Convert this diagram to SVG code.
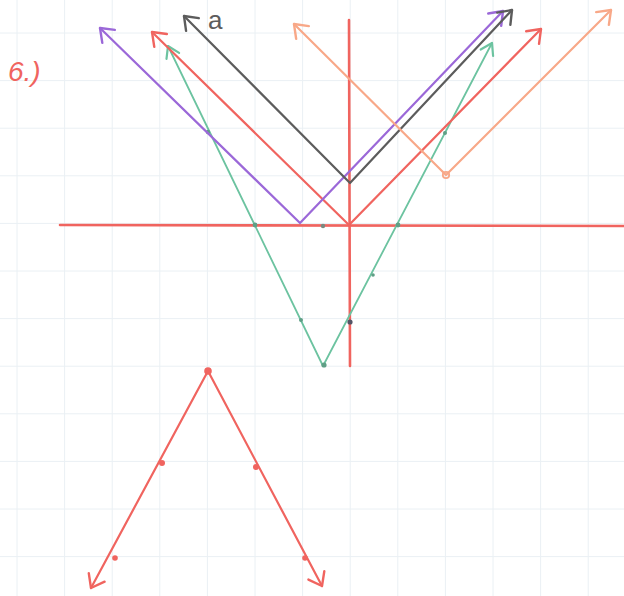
<svg xmlns="http://www.w3.org/2000/svg" width="624" height="596" viewBox="0 0 624 596">
<style>
.grid line{stroke:#eaf0f4;stroke-width:1}
.ln{fill:none;stroke-width:2.2;stroke-linecap:round;stroke-linejoin:round}
.red{stroke:#f0645f}
.pur{stroke:#9b68d8}
.gry{stroke:#5c5c5c}
.org{stroke:#f8a888}
.grn{stroke:#6cc3a0;stroke-width:1.8}
.axis{stroke:#f0645f;stroke-width:2.6;fill:none;stroke-linecap:round}
.lbl{font-family:"Liberation Sans",Arial,sans-serif}
</style>
<defs>
<marker id="mRed" markerUnits="userSpaceOnUse" markerWidth="24" markerHeight="24" refX="0" refY="0" viewBox="-14 -12 16 24" orient="auto-start-reverse"><path d="M-12,-9 L0,0 L-12,9" fill="none" stroke="#f0645f" stroke-width="2.4" stroke-linecap="round" stroke-linejoin="round"/></marker>
<marker id="mPur" markerUnits="userSpaceOnUse" markerWidth="24" markerHeight="24" refX="0" refY="0" viewBox="-14 -12 16 24" orient="auto-start-reverse"><path d="M-12,-9 L0,0 L-12,9" fill="none" stroke="#9b68d8" stroke-width="2.4" stroke-linecap="round" stroke-linejoin="round"/></marker>
<marker id="mGry" markerUnits="userSpaceOnUse" markerWidth="24" markerHeight="24" refX="0" refY="0" viewBox="-14 -12 16 24" orient="auto-start-reverse"><path d="M-12,-9 L0,0 L-12,9" fill="none" stroke="#5c5c5c" stroke-width="2.4" stroke-linecap="round" stroke-linejoin="round"/></marker>
<marker id="mOrg" markerUnits="userSpaceOnUse" markerWidth="24" markerHeight="24" refX="0" refY="0" viewBox="-14 -12 16 24" orient="auto-start-reverse"><path d="M-12,-9 L0,0 L-12,9" fill="none" stroke="#f8a888" stroke-width="2.4" stroke-linecap="round" stroke-linejoin="round"/></marker>
<marker id="mGrn" markerUnits="userSpaceOnUse" markerWidth="24" markerHeight="24" refX="0" refY="0" viewBox="-14 -12 16 24" orient="auto-start-reverse"><path d="M-11,-7 L0,0 L-11,7" fill="none" stroke="#6cc3a0" stroke-width="2.2" stroke-linecap="round" stroke-linejoin="round"/></marker>
</defs>
<rect width="624" height="596" fill="#ffffff"/>
<g class="grid">
<line x1="17" y1="0" x2="17" y2="596"/><line x1="64.6" y1="0" x2="64.6" y2="596"/><line x1="112.2" y1="0" x2="112.2" y2="596"/><line x1="159.8" y1="0" x2="159.8" y2="596"/><line x1="207.4" y1="0" x2="207.4" y2="596"/><line x1="255" y1="0" x2="255" y2="596"/><line x1="302.6" y1="0" x2="302.6" y2="596"/><line x1="350.2" y1="0" x2="350.2" y2="596"/><line x1="397.8" y1="0" x2="397.8" y2="596"/><line x1="445.4" y1="0" x2="445.4" y2="596"/><line x1="493" y1="0" x2="493" y2="596"/><line x1="540.6" y1="0" x2="540.6" y2="596"/><line x1="588.2" y1="0" x2="588.2" y2="596"/>
<line x1="0" y1="33" x2="624" y2="33"/><line x1="0" y1="80.6" x2="624" y2="80.6"/><line x1="0" y1="128.2" x2="624" y2="128.2"/><line x1="0" y1="175.8" x2="624" y2="175.8"/><line x1="0" y1="223.4" x2="624" y2="223.4"/><line x1="0" y1="271" x2="624" y2="271"/><line x1="0" y1="318.6" x2="624" y2="318.6"/><line x1="0" y1="366.2" x2="624" y2="366.2"/><line x1="0" y1="413.8" x2="624" y2="413.8"/><line x1="0" y1="461.4" x2="624" y2="461.4"/><line x1="0" y1="509" x2="624" y2="509"/><line x1="0" y1="556.6" x2="624" y2="556.6"/>
</g>
<text class="lbl" x="8" y="81" font-size="28" font-style="italic" fill="#f0645f">6.)</text>
<g id="axes">
<line class="axis" x1="60" y1="225" x2="624" y2="226"/>
<line class="axis" x1="349" y1="20" x2="350" y2="366"/>
</g>
<g id="connectors">
<g id="green-ray">
<polyline class="ln grn" points="168,46 323,366 492,43" marker-start="url(#mGrn)" marker-end="url(#mGrn)"/>
<g fill="#5f9f86">
<circle cx="208" cy="132" r="2.2"/><circle cx="255" cy="225" r="2.4"/><circle cx="301" cy="320" r="2"/><circle cx="324" cy="365" r="2.6"/><circle cx="350" cy="322" r="2.6" fill="#556"/><circle cx="373" cy="275" r="1.8"/><circle cx="398" cy="225" r="2.4"/><circle cx="445" cy="133" r="2"/><circle cx="323" cy="226" r="2.2" fill="#7a8a80"/>
</g>
</g>
<g id="red-ray">
<polyline class="ln red" points="152,32 349,225 541,29" marker-start="url(#mRed)" marker-end="url(#mRed)"/>
</g>
<g id="purple-ray">
<polyline class="ln pur" points="100,28 300,223 503,11" marker-start="url(#mPur)" marker-end="url(#mPur)"/>
</g>
<g id="grey-ray">
<polyline class="ln gry" points="184,16 350,183 512,10" marker-start="url(#mGry)" marker-end="url(#mGry)"/>
</g>
<g id="orange-ray">
<polyline class="ln org" points="294,24 446,175 611,10" marker-start="url(#mOrg)" marker-end="url(#mOrg)"/>
<circle cx="446" cy="175" r="3.2" fill="none" stroke="#f8a888" stroke-width="1.8"/>
</g>
<g id="bottom-v">
<polyline class="ln red" points="91,588 208,371 322,586" marker-start="url(#mRed)" marker-end="url(#mRed)"/>
<g fill="#f0645f">
<circle cx="208" cy="371" r="3.8"/><circle cx="162" cy="463" r="3"/><circle cx="256" cy="467" r="3"/><circle cx="115" cy="558" r="2.8"/><circle cx="305" cy="558" r="2.8"/>
</g>
</g>
</g>
<text class="lbl" x="208" y="29" font-size="26" fill="#5c5c5c">a</text>
</svg>
